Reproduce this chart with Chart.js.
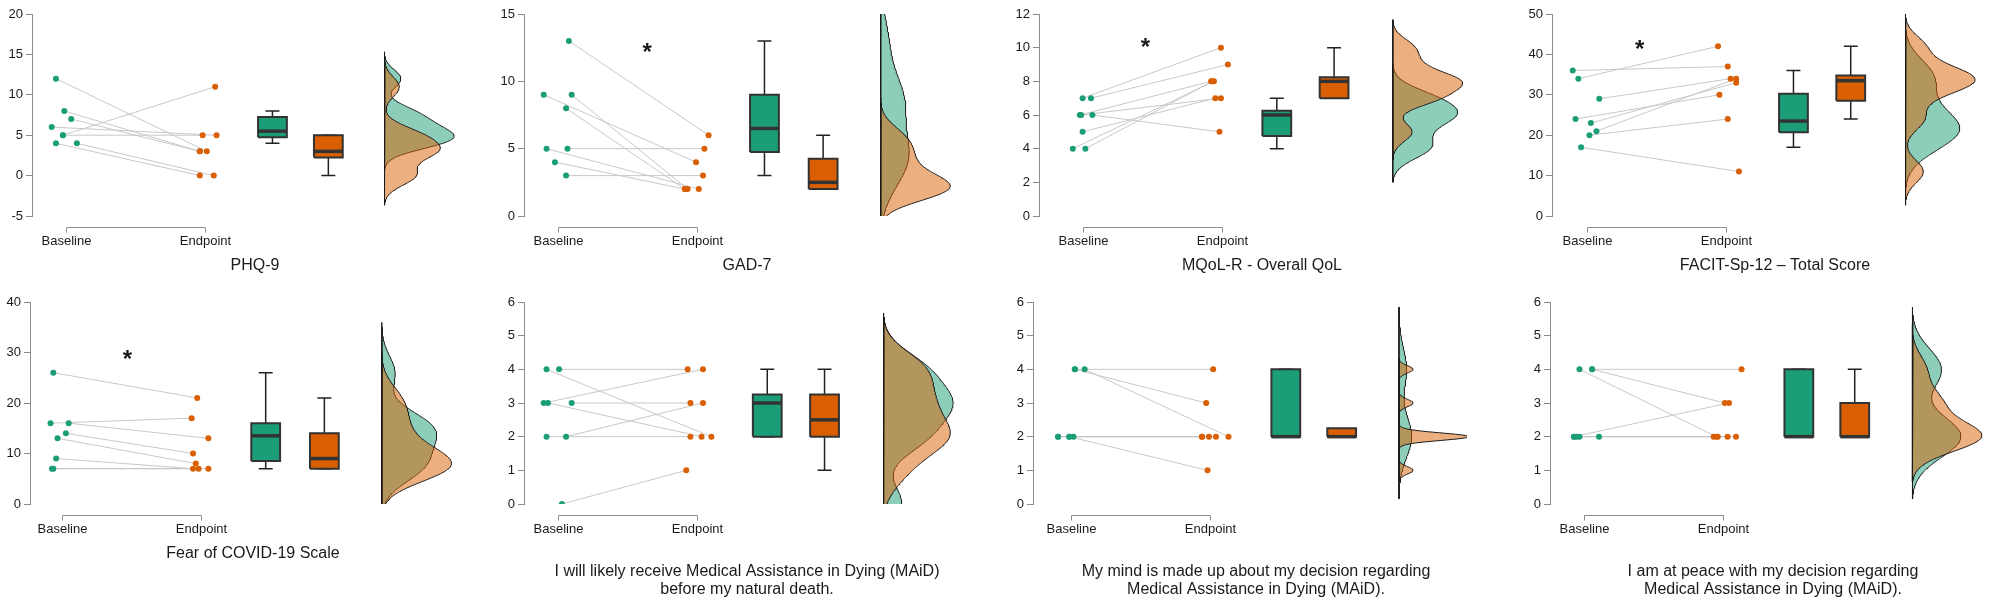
<!DOCTYPE html>
<html>
<head>
<meta charset="utf-8">
<script src="https://cdn.jsdelivr.net/npm/chart.js@4.4.1/dist/chart.umd.min.js"></script>
<style>
html, body { margin: 0; padding: 0; background: #fff; overflow: hidden; }
#wrap { position: relative; width: 1990px; height: 602px; }
#wrap canvas { position: absolute; }
</style>
</head>
<body>
<div id="wrap"></div>
<script>
const timeLabels = ['Baseline', 'Endpoint'];
const panelTitles = [
    ['PHQ-9'],
    ['GAD-7'],
    ['MQoL-R - Overall QoL'],
    ['FACIT-Sp-12 \u2013 Total Score'],
    ['Fear of COVID-19 Scale'],
    ['I will likely receive Medical Assistance in Dying (MAiD)', 'before my natural death.'],
    ['My mind is made up about my decision regarding', 'Medical Assistance in Dying (MAiD).'],
    ['I am at peace with my decision regarding', 'Medical Assistance in Dying (MAiD).']
];

// y axis [min, max, step]
const yRanges = [[-5, 20, 5], [0, 15, 5], [0, 12, 2], [0, 50, 10], [0, 40, 10], [0, 6, 1], [0, 6, 1], [0, 6, 1]];

// paired scores, same participant order in both arrays
const phq9Base = [12, 8, 7, 6, 5, 5, 4, 4];
const phq9End = [3, 3, 3, 5, 11, 5, 0, 0];
const gad7Base = [13, 9, 9, 8, 5, 5, 4, 3];
const gad7End = [6, 4, 2, 2, 2, 5, 2, 3];
const mqolBase = [7, 7, 6, 6, 6, 5, 4, 4];
const mqolEnd = [10, 9, 8, 7, 5, 7, 8, 8];
const facitBase = [36, 34, 29, 24, 23, 21, 20, 17];
const facitEnd = [37, 42, 34, 30, 33, 34, 24, 11];
const fearBase = [26, 16, 16, 14, 13, 9, 7, 7];
const fearEnd = [21, 17, 13, 10, 8, 7, 7, 7];
const maidBase = [4, 4, 3, 3, 3, 2, 2, 0];
const maidEnd = [2, 4, 4, 2, 3, 2, 3, 1];
const mindBase = [4, 4, 4, 2, 2, 2, 2, 2];
const mindEnd = [4, 3, 2, 2, 2, 2, 2, 1];
const peaceBase = [4, 4, 4, 2, 2, 2, 2, 2];
const peaceEnd = [4, 3, 2, 3, 2, 2, 2, 2];

// horizontal jitter of the dots (category units)
const phq9BaseJit = [-0.07, -0.01, 0.04, -0.10, -0.02, -0.02, -0.07, 0.08];
const phq9EndJit = [0.01, -0.04, -0.04, 0.08, 0.07, -0.02, -0.04, 0.06];
const gad7BaseJit = [0.08, -0.10, 0.10, 0.06, -0.08, 0.07, -0.02, 0.06];
const gad7EndJit = [0.08, -0.01, -0.07, -0.09, 0.01, 0.05, -0.09, 0.04];
const mqolBaseJit = [0, 0.06, -0.02, -0.01, 0.07, 0, -0.07, 0.02];
const mqolEndJit = [-0.01, 0.04, -0.08, -0.01, -0.02, -0.05, -0.06, -0.07];
const facitBaseJit = [-0.10, -0.06, 0.09, -0.08, 0.03, 0.07, 0.02, -0.04];
const facitEndJit = [0.01, -0.06, 0.03, -0.05, 0.07, 0.07, 0.01, 0.09];
const fearBaseJit = [-0.06, -0.08, 0.05, 0.03, -0.03, -0.04, -0.07, -0.06];
const fearEndJit = [-0.03, -0.07, 0.05, -0.06, -0.04, -0.06, -0.02, 0.05];
const maidBaseJit = [-0.08, 0.01, -0.10, -0.07, 0.10, -0.08, 0.06, 0.03];
const maidEndJit = [0.10, -0.07, 0.04, 0.03, -0.05, -0.05, 0.04, -0.08];
const mindBaseJit = [0.03, 0.03, 0.10, -0.09, -0.01, 0.02, -0.09, -0.01];
const mindEndJit = [0.02, -0.03, 0.13, -0.06, -0.01, 0.04, -0.06, -0.02];
const peaceBaseJit = [0.06, 0.06, -0.03, -0.07, -0.03, 0.11, -0.07, -0.05];
const peaceEndJit = [0.13, 0.01, -0.05, 0.04, -0.07, -0.04, 0.03, 0.09];

// significance star [x, y] per panel
const sigMarks = [null, [1.64, 12.6], [1.45, 10.4], [1.38, 42.8], [1.47, 30], null, null, null];

const baseVals = [phq9Base, gad7Base, mqolBase, facitBase, fearBase, maidBase, mindBase, peaceBase];
const endVals = [phq9End, gad7End, mqolEnd, facitEnd, fearEnd, maidEnd, mindEnd, peaceEnd];
const baseJit = [phq9BaseJit, gad7BaseJit, mqolBaseJit, facitBaseJit, fearBaseJit, maidBaseJit, mindBaseJit, peaceBaseJit];
const endJit = [phq9EndJit, gad7EndJit, mqolEndJit, facitEndJit, fearEndJit, maidEndJit, mindEndJit, peaceEndJit];

// layout of each panel
const axisLeft = [32, 524, 1039, 1552, 30, 524, 1033, 1550];
const leadPx = [34, 34, 44, 35, 32, 34, 38, 34];
const slots = [
    [2.48, 2.88, 3.28], [2.48, 2.90, 3.31], [2.39, 2.80, 3.22], [2.48, 2.89, 3.28],
    [2.46, 2.88, 3.29], [2.50, 2.91, 3.33], [2.54, 2.94, 3.35], [2.54, 2.94, 3.35]
];

const GREEN = '#1b9e77';
const ORANGE = '#d95f02';
const FONT = '"Liberation Sans", Arial, sans-serif';
const PX_PER_UNIT = 141;
const CANVAS_W = 470;
const AXIS_W = 32;

function quantile(sorted, p) {
    const pos = (sorted.length - 1) * p;
    const lo = Math.floor(pos);
    const hi = Math.ceil(pos);
    return sorted[lo] + (sorted[hi] - sorted[lo]) * (pos - lo);
}

function boxStats(vals) {
    const s = [...vals].sort((a, b) => a - b);
    const q1 = quantile(s, 0.25), med = quantile(s, 0.5), q3 = quantile(s, 0.75);
    const iqr = q3 - q1;
    const lo = Math.min(...s.filter(v => v >= q1 - 1.5 * iqr));
    const hi = Math.max(...s.filter(v => v <= q3 + 1.5 * iqr));
    return { q1, med, q3, lo, hi };
}

// R's bw.nrd0
function bandwidth(vals) {
    const n = vals.length;
    const mean = vals.reduce((a, b) => a + b, 0) / n;
    const sd = Math.sqrt(vals.reduce((a, b) => a + (b - mean) ** 2, 0) / (n - 1));
    const s = [...vals].sort((a, b) => a - b);
    const iqr = quantile(s, 0.75) - quantile(s, 0.25);
    let lo = Math.min(sd, iqr / 1.34);
    if (!lo) lo = sd || 1;
    return 0.9 * lo * Math.pow(n, -0.2);
}

function density(vals, bw, y) {
    let sum = 0;
    vals.forEach(v => {
        const z = (y - v) / bw;
        sum += Math.exp(-0.5 * z * z) / Math.sqrt(2 * Math.PI);
    });
    return sum / (vals.length * bw);
}

function densityCurve(vals) {
    const bw = bandwidth(vals);
    const lo = Math.min(...vals) - 3 * bw;
    const hi = Math.max(...vals) + 3 * bw;
    const pts = [];
    for (let k = 0; k <= 240; k++) {
        const y = lo + (hi - lo) * k / 240;
        pts.push({ y, d: density(vals, bw, y) });
    }
    return pts;
}

function violinDataset(curve, x, scale, color, order) {
    const data = curve.map(p => ({ x: x + p.d * scale, y: p.y }));
    data.push({ x, y: curve[curve.length - 1].y }, { x, y: curve[0].y });
    return {
        type: 'line', data, fill: 'shape', backgroundColor: color,
        borderColor: '#1a1a1a', borderWidth: 1, pointRadius: 0, tension: 0, order
    };
}

function boxDatasets(vals, x, color) {
    const s = boxStats(vals);
    const hw = 0.103, cw = 0.05;
    return [
        {
            type: 'line', order: 4, fill: 'shape', backgroundColor: color,
            borderColor: '#333', borderWidth: 2, borderJoinStyle: 'miter', pointRadius: 0,
            data: [{ x: x - hw, y: s.q1 }, { x: x + hw, y: s.q1 }, { x: x + hw, y: s.q3 }, { x: x - hw, y: s.q3 }, { x: x - hw, y: s.q1 }]
        },
        {
            type: 'line', order: 3, borderColor: '#333', borderWidth: 3.5, pointRadius: 0,
            data: [{ x: x - hw, y: s.med }, { x: x + hw, y: s.med }]
        },
        {
            type: 'line', order: 5, borderColor: '#222', borderWidth: 1.5, pointRadius: 0,
            data: [
                { x, y: s.q3 }, { x, y: s.hi }, { x, y: null },
                { x: x - cw, y: s.hi }, { x: x + cw, y: s.hi }, { x, y: null },
                { x, y: s.q1 }, { x, y: s.lo }, { x, y: null },
                { x: x - cw, y: s.lo }, { x: x + cw, y: s.lo }
            ]
        }
    ];
}

const decor = {
    id: 'decor',
    afterDraw(chart, args, opts) {
        const { ctx, chartArea: a, scales: { x, y } } = chart;
        const x1 = Math.round(x.getPixelForValue(1)) + 0.5;
        const x2 = Math.round(x.getPixelForValue(2)) + 0.5;
        const by = Math.round(a.bottom + 11) + 0.5;
        ctx.save();
        ctx.strokeStyle = '#8c8c8c';
        ctx.lineWidth = 1;
        ctx.beginPath();
        ctx.moveTo(x1, by + 5);
        ctx.lineTo(x1, by);
        ctx.lineTo(x2, by);
        ctx.lineTo(x2, by + 5);
        ctx.stroke();

        ctx.fillStyle = '#1a1a1a';
        ctx.textAlign = 'center';
        ctx.textBaseline = 'middle';
        ctx.font = '13px ' + FONT;
        ctx.fillText(timeLabels[0], x1, a.bottom + 25.5);
        ctx.fillText(timeLabels[1], x2, a.bottom + 25.5);

        ctx.font = '16px ' + FONT;
        const lines = opts.title;
        const y0 = a.bottom + (lines.length > 1 ? 67.5 : 49.5);
        lines.forEach((t, k) => ctx.fillText(t, a.left + 223, y0 + k * 17.8));

        if (opts.sig) {
            ctx.font = 'bold 24px ' + FONT;
            ctx.textBaseline = 'alphabetic';
            ctx.fillText('*', x.getPixelForValue(opts.sig[0]), y.getPixelForValue(opts.sig[1]) + 14);
        }
        ctx.restore();
    }
};

function makePanel(i) {
    const row = i < 4 ? 0 : 1;
    const top = row === 0 ? 0 : 288;
    const h = row === 0 ? 288 : 314;
    const canvas = document.createElement('canvas');
    canvas.width = CANVAS_W;
    canvas.height = h;
    canvas.style.width = CANVAS_W + 'px';
    canvas.style.height = h + 'px';
    canvas.style.left = (axisLeft[i] - AXIS_W) + 'px';
    canvas.style.top = top + 'px';
    document.getElementById('wrap').appendChild(canvas);

    const xMin = 1 - leadPx[i] / PX_PER_UNIT;
    const xMax = xMin + (CANVAS_W - AXIS_W) / PX_PER_UNIT;
    const base = baseVals[i], end = endVals[i];
    const [slotB, slotE, slotV] = slots[i];

    const pairLines = [];
    base.forEach((v, k) => {
        pairLines.push({ x: 1 + baseJit[i][k], y: v }, { x: 2 + endJit[i][k], y: end[k] }, { x: 2, y: null });
    });

    const curveB = densityCurve(base);
    const curveE = densityCurve(end);
    const maxD = Math.max(...curveB.map(p => p.d), ...curveE.map(p => p.d));
    const dScale = 0.5 / maxD;

    const datasets = [
        {
            type: 'scatter', order: 1, pointRadius: 3, pointBorderWidth: 0,
            pointBackgroundColor: GREEN, data: base.map((v, k) => ({ x: 1 + baseJit[i][k], y: v }))
        },
        {
            type: 'scatter', order: 1, pointRadius: 3, pointBorderWidth: 0,
            pointBackgroundColor: ORANGE, data: end.map((v, k) => ({ x: 2 + endJit[i][k], y: v }))
        },
        { type: 'line', order: 2, data: pairLines, borderColor: '#c8c8c8', borderWidth: 1, pointRadius: 0 },
        ...boxDatasets(base, slotB, GREEN),
        ...boxDatasets(end, slotE, ORANGE),
        violinDataset(curveB, slotV, dScale, 'rgba(27,158,119,0.5)', 7),
        violinDataset(curveE, slotV, dScale, 'rgba(217,95,2,0.5)', 6)
    ];

    const [yMin, yMax, yStep] = yRanges[i];
    new Chart(canvas, {
        type: 'scatter',
        data: { datasets },
        options: {
            responsive: false,
            animation: false,
            events: [],
            layout: { padding: { top: 14, bottom: h - 14 - 202, left: 0, right: 0 } },
            plugins: {
                legend: { display: false },
                tooltip: { enabled: false },
                decor: { title: panelTitles[i], sig: sigMarks[i] }
            },
            scales: {
                x: { type: 'linear', display: false, min: xMin, max: xMax },
                y: {
                    type: 'linear', min: yMin, max: yMax,
                    ticks: { stepSize: yStep, color: '#1a1a1a', padding: 3, font: { size: 13, family: FONT } },
                    grid: { drawOnChartArea: false, drawTicks: true, tickLength: 6, color: '#8c8c8c' },
                    border: { display: true, color: '#8c8c8c', width: 1 },
                    afterFit(scale) { scale.width = AXIS_W; }
                }
            }
        },
        plugins: [decor]
    });
}

for (let i = 0; i < 8; i++) makePanel(i);
</script>
</body>
</html>
